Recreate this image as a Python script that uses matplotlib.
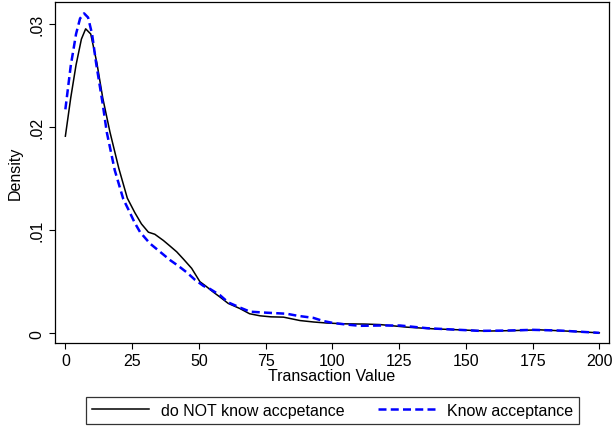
import matplotlib
matplotlib.use('Agg')
import matplotlib.pyplot as plt

plt.rcParams['font.family'] = ['Liberation Sans', 'DejaVu Sans']

# kernel density estimates
x_not_know = [0, 2, 4, 6, 7.6, 9.5, 11.8, 14, 16.7, 20, 23.2, 26, 28.5, 31.1, 33.5,
              36.7, 39, 41.7, 44.2, 47.3, 50.4, 52.5, 55.4, 58, 61, 65.4, 69, 72.9,
              77, 81.7, 87.9, 93, 97.9, 105, 112, 117.9, 127.9, 137.8, 147.8, 157.8,
              167.8, 177.8, 187.8, 200]
y_not_know = [0.0191, 0.0228, 0.0260, 0.0285, 0.0295, 0.0290, 0.0262, 0.0228, 0.0195,
              0.0160, 0.0131, 0.0117, 0.0106, 0.0098, 0.0096, 0.0090, 0.0085, 0.0079,
              0.0072, 0.0063, 0.0050, 0.0046, 0.0040, 0.0035, 0.0029, 0.0024, 0.0019,
              0.0017, 0.0016, 0.00157, 0.00124, 0.0011, 0.0010, 0.00092, 0.0009,
              0.00085, 0.0006, 0.00044, 0.00034, 0.00022, 0.00027, 0.00034, 0.00022,
              0.00005]

x_know = [0, 2, 4, 5.5, 7.0, 8.5, 10, 11.5, 14, 15.5, 18.5, 21.7, 23.6, 26, 28, 31.7,
          35, 39.2, 42.5, 45.5, 48.5, 51.7, 54.2, 57.9, 61, 65.4, 69.2, 75.4, 82.9, 87,
          92.9, 96.5, 100.4, 105.4, 110.4, 117.9, 125.4, 135.4, 145.3, 155.3, 165.3,
          175.2, 185.3, 200]
y_know = [0.0217, 0.0259, 0.0290, 0.0305, 0.0310, 0.0306, 0.0290, 0.0262, 0.0222,
          0.0195, 0.0158, 0.0130, 0.0120, 0.0107, 0.0098, 0.0087, 0.0080, 0.0071,
          0.0065, 0.0059, 0.0052, 0.0046, 0.0043, 0.0037, 0.0030, 0.0025, 0.0021,
          0.0020, 0.0019, 0.0017, 0.0015, 0.0012, 0.0010, 0.00085, 0.00073, 0.00076,
          0.00076, 0.0005, 0.00037, 0.00024, 0.00027, 0.00034, 0.00027, 0.00005]

x_ticks = [0, 25, 50, 75, 100, 125, 150, 175, 200]
y_ticks = [0, 0.01, 0.02, 0.03]
y_tick_labels = ['0', '.01', '.02', '.03']

fig = plt.figure(figsize=(6.13, 4.27), dpi=100)
ax = fig.add_axes([0.089, 0.194, 0.905, 0.799])

ax.plot(x_not_know, y_not_know, color='black', lw=1.1, label='do NOT know accpetance')
ax.plot(x_know, y_know, color='#0000ff', lw=1.8, dashes=(3.2, 1.7), label='Know acceptance')

ax.set_xlim(-4.05, 203.75)
ax.set_ylim(-0.00095, 0.0321)
ax.set_xticks(x_ticks)
ax.set_yticks(y_ticks)
ax.set_yticklabels(y_tick_labels, rotation=90, va='center')
ax.tick_params(direction='out', length=4.5, width=0.8, labelsize=11.5, pad=2.5)
for s in ax.spines.values():
    s.set_linewidth(0.9)

ax.set_xlabel('Transaction Value', fontsize=11.5, labelpad=0)
ax.set_ylabel('Density', fontsize=11.5, labelpad=5)

leg = fig.legend(loc='center', bbox_to_anchor=(0.5425, 0.0365), ncol=2, fontsize=11.5,
                 frameon=True, fancybox=False, edgecolor='black', handlelength=3.6,
                 handletextpad=0.75, columnspacing=2.05, borderpad=0.38, borderaxespad=0)
leg.get_frame().set_linewidth(0.9)

fig.savefig('out.png', dpi=100)
